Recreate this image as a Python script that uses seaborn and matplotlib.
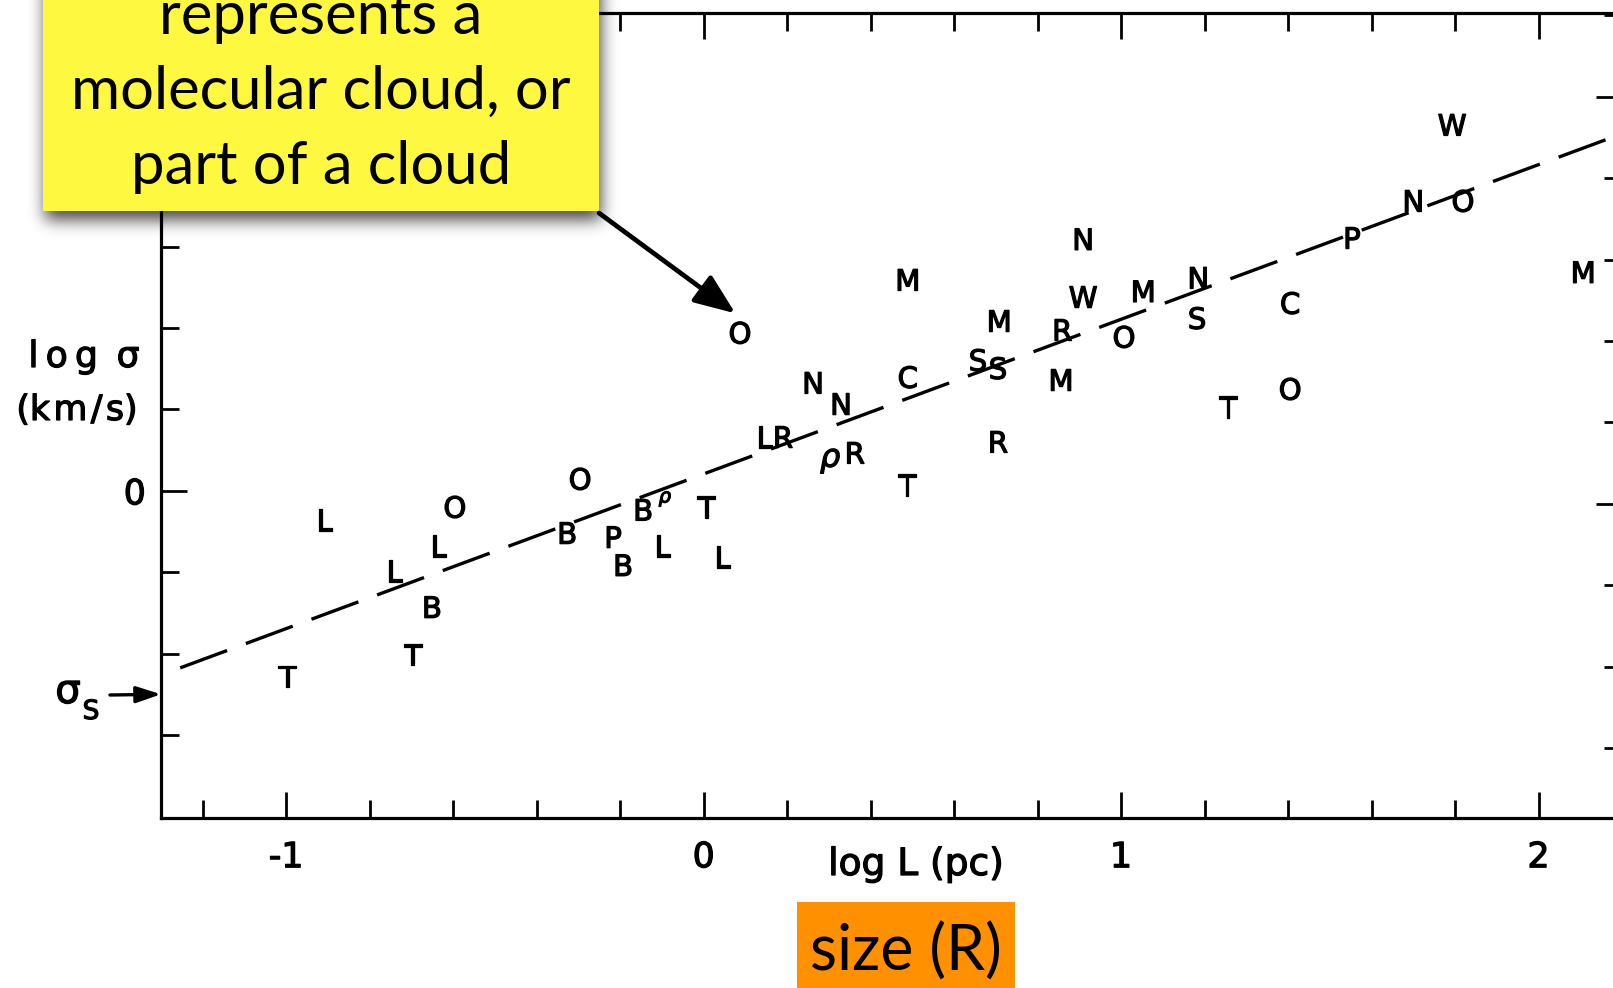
import numpy as np
import pandas as pd
import matplotlib
matplotlib.use("Agg")
import matplotlib.pyplot as plt
import matplotlib.transforms as mtransforms
import matplotlib.patheffects as pe
from matplotlib.patches import Rectangle, ConnectionPatch
from matplotlib.ticker import FixedLocator, NullFormatter
import seaborn as sns

# Each letter marks one cloud (or part of a cloud), coded by its source survey
cloud_code = ["L", "O", "L", "L", "B", "T", "T",
              "O", "B", "P", "B", "B", "ρ", "L", "T", "L",
              "O", "L", "R", "N", "N", "ρ", "R", "T", "C", "M",
              "S", "S", "M", "R", "R", "M", "N", "W", "M", "O",
              "N", "S", "C", "T", "O", "P", "N", "O", "W", "M"]
log_size = [-0.909, -0.596, -0.636, -0.742, -0.651, -0.697, -0.998,
            -0.296, -0.327, -0.217, -0.193, -0.145, -0.093, -0.100, 0.006, 0.044,
            0.087, 0.145, 0.190, 0.262, 0.329, 0.303, 0.362, 0.487, 0.489, 0.489,
            0.657, 0.705, 0.708, 0.705, 0.859, 0.856, 0.909, 0.909, 1.053, 1.007,
            1.185, 1.182, 1.405, 1.256, 1.405, 1.553, 1.700, 1.819, 1.793, 2.107]
log_dispersion = [-0.072, -0.040, -0.136, -0.197, -0.286, -0.403, -0.457,
                  0.029, -0.104, -0.114, -0.183, -0.047, -0.015, -0.136, -0.040, -0.163,
                  0.388, 0.132, 0.132, 0.265, 0.213, 0.080, 0.093, 0.014, 0.279, 0.518,
                  0.321, 0.301, 0.417, 0.120, 0.395, 0.272, 0.618, 0.476, 0.490, 0.378,
                  0.523, 0.424, 0.461, 0.206, 0.250, 0.621, 0.712, 0.712, 0.899, 0.537]
small_marks = {12}

# Power-law fit  sigma = 1.10 km/s * (L / pc)^0.38
fit_amplitude = 1.10
fit_index = 0.38
fit_range = [-1.254, 2.25]

# Thermal sound speed level
sigma_s_level = -0.50

x_ticks = [-1, 0, 1, 2]
x_tick_labels = ["-1", "0", "1", "2"]

sns.set_theme(style="ticks")
plt.rcParams["font.family"] = ["DejaVu Sans"]
plt.rcParams["mathtext.fontset"] = "dejavusans"

W, H, DPI = 1613, 988, 100
fig = plt.figure(figsize=(W / DPI, H / DPI), dpi=DPI, facecolor="white")

# slightly heavier strokes for the hand-lettered look
ink = [pe.withStroke(linewidth=0.9, foreground="black")]


def fx(px):
    return px / W


def fy(py):
    return 1 - py / H


ax = fig.add_axes([fx(161), fy(818), 1461 / W, 805 / H])
ax.set_facecolor("white")
ax.set_xlim(-1.30, 2.20)
ax.set_ylim(-0.804, 1.174)

# fitted relation
fit = pd.DataFrame({"log_L": fit_range})
fit["log_sigma"] = np.log10(fit_amplitude) + fit_index * fit["log_L"]
sns.lineplot(data=fit, x="log_L", y="log_sigma", ax=ax, color="black",
             linewidth=2.4, linestyle=(0, (15, 6)), legend=False)

# letter markers
clouds = pd.DataFrame({"code": cloud_code, "log_L": log_size,
                       "log_sigma": log_dispersion})
cap_shift = mtransforms.ScaledTranslation(0, -7.6 / 72, fig.dpi_scale_trans)
for i, row in clouds.iterrows():
    if row.code == "ρ":
        ax.text(row.log_L, row.log_sigma, "ρ", ha="center", va="center",
                fontsize=14 if i in small_marks else 23, fontstyle="italic",
                color="black", path_effects=ink)
    else:
        ax.text(row.log_L, row.log_sigma, row.code,
                transform=ax.transData + cap_shift,
                ha="center", va="baseline", fontsize=21, color="black",
                path_effects=ink)

ax.set_xlabel("")
ax.set_ylabel("")

# ticks and frame
ax.set_xticks(x_ticks, x_tick_labels)
ax.set_xticks(np.round(np.arange(-1.2, 2.21, 0.2), 1), minor=True)
ax.set_yticks([0, 1], ["0", ""])
ax.set_yticks(np.round(np.arange(-0.6, 1.01, 0.2), 1), minor=True)
ax.tick_params(which="both", direction="in", top=True, bottom=True,
               left=True, right=False, width=2.0, color="black",
               labelcolor="black")
ax.tick_params(which="major", length=19, labelsize=25)
ax.tick_params(which="minor", length=13)
ax.tick_params(axis="x", which="major", pad=16)
ax.tick_params(axis="y", which="major", pad=11)
for lab in ax.get_xticklabels() + ax.get_yticklabels():
    lab.set_path_effects(ink)
for side in ["left", "bottom", "top"]:
    ax.spines[side].set_linewidth(2.3)
    ax.spines[side].set_color("black")
ax.spines["right"].set_visible(False)

shift = 0.032
sec = ax.secondary_yaxis("right", functions=(lambda v: v + shift,
                                             lambda v: v - shift))
sec.yaxis.set_major_locator(FixedLocator([0.0, 1.0]))
sec.yaxis.set_minor_locator(FixedLocator(np.round(np.arange(-0.6, 1.21, 0.2), 1)))
sec.yaxis.set_major_formatter(NullFormatter())
sec.tick_params(which="both", direction="in", width=2.0, color="black")
sec.tick_params(which="major", length=19)
sec.tick_params(which="minor", length=13)
sec.spines["right"].set_linewidth(2.3)

# axis titles
fig.text(fx(916), fy(875), "log L (pc)", ha="center", va="baseline",
         fontsize=27, color="black", path_effects=ink)
fig.text(fx(84), fy(357), "l\u2009o\u2009g\u2009 σ", ha="center", va="center",
         fontsize=26, color="black", path_effects=ink)
fig.text(fx(77), fy(410), "(k\u200am\u200a/\u200as)", ha="center",
         va="center", fontsize=25, color="black", path_effects=ink)

# sound-speed marker
fig.text(fx(68), fy(692), "σ", ha="center", va="center", fontsize=29,
         color="black", path_effects=ink)
fig.text(fx(91), fy(712), "S", ha="center", va="center", fontsize=19,
         color="black", path_effects=ink)
ax.annotate("", xy=(-1.30, sigma_s_level), xycoords="data",
            xytext=(110, H - 695), textcoords="figure pixels",
            arrowprops=dict(arrowstyle="-|>,head_length=0.75,head_width=0.25",
                            color="black", lw=2.4, shrinkA=0, shrinkB=0,
                            mutation_scale=20),
            annotation_clip=False)

# callout box with soft drop shadow
box_l, box_r, box_b = 43, 599, 211
pad, blur = 40, 8
sh_off_x, sh_off_y = 2, 9
sh_top = -60
sh = np.zeros((box_b - sh_top + 2 * pad, box_r - box_l + 2 * pad))
sh[pad:pad + box_b - sh_top, pad:pad + box_r - box_l] = 1.0
kern = np.exp(-0.5 * (np.arange(-3 * blur, 3 * blur + 1) / blur) ** 2)
kern /= kern.sum()
sh = np.apply_along_axis(lambda r: np.convolve(r, kern, mode="same"), 0, sh)
sh = np.apply_along_axis(lambda r: np.convolve(r, kern, mode="same"), 1, sh)
rgba = np.zeros(sh.shape + (4,))
rgba[..., 3] = 0.72 * sh
img_left = box_l + sh_off_x - pad
img_bottom_px = box_b + sh_off_y + pad
shadow = fig.figimage(rgba, xo=img_left, yo=H - img_bottom_px, origin="upper")
shadow.set_zorder(3)

fig.add_artist(Rectangle((fx(box_l), fy(box_b)), (box_r - box_l) / W, 0.4,
                         transform=fig.transFigure, facecolor="#fff840",
                         edgecolor="none", zorder=4))
callout_lines = ["represents a", "molecular cloud, or", "part of a cloud"]
for line, base in zip(callout_lines, [34, 109, 184]):
    fig.text(fx(321), fy(base), line, ha="center", va="baseline",
             fontsize=43, family="Lato", color="black", zorder=5)

arrow = ConnectionPatch(xyA=(599, H - 213), coordsA="figure pixels",
                        xyB=(0.076, 0.436), coordsB=ax.transData,
                        arrowstyle="-|>,head_length=1.0,head_width=0.4",
                        mutation_scale=25, lw=3.4, color="black",
                        shrinkA=0, shrinkB=0, zorder=6)
fig.add_artist(arrow)

# axis caption tag
fig.add_artist(Rectangle((fx(797), 0), (1015 - 797) / W, (988 - 902) / H,
                         transform=fig.transFigure, facecolor="#ff9000",
                         edgecolor="none", zorder=4))
fig.text(fx(906), fy(971), "size (R)", ha="center", va="baseline",
         fontsize=45, family="Lato", color="black", zorder=5)

fig.savefig("out.png", dpi=DPI, facecolor="white")
